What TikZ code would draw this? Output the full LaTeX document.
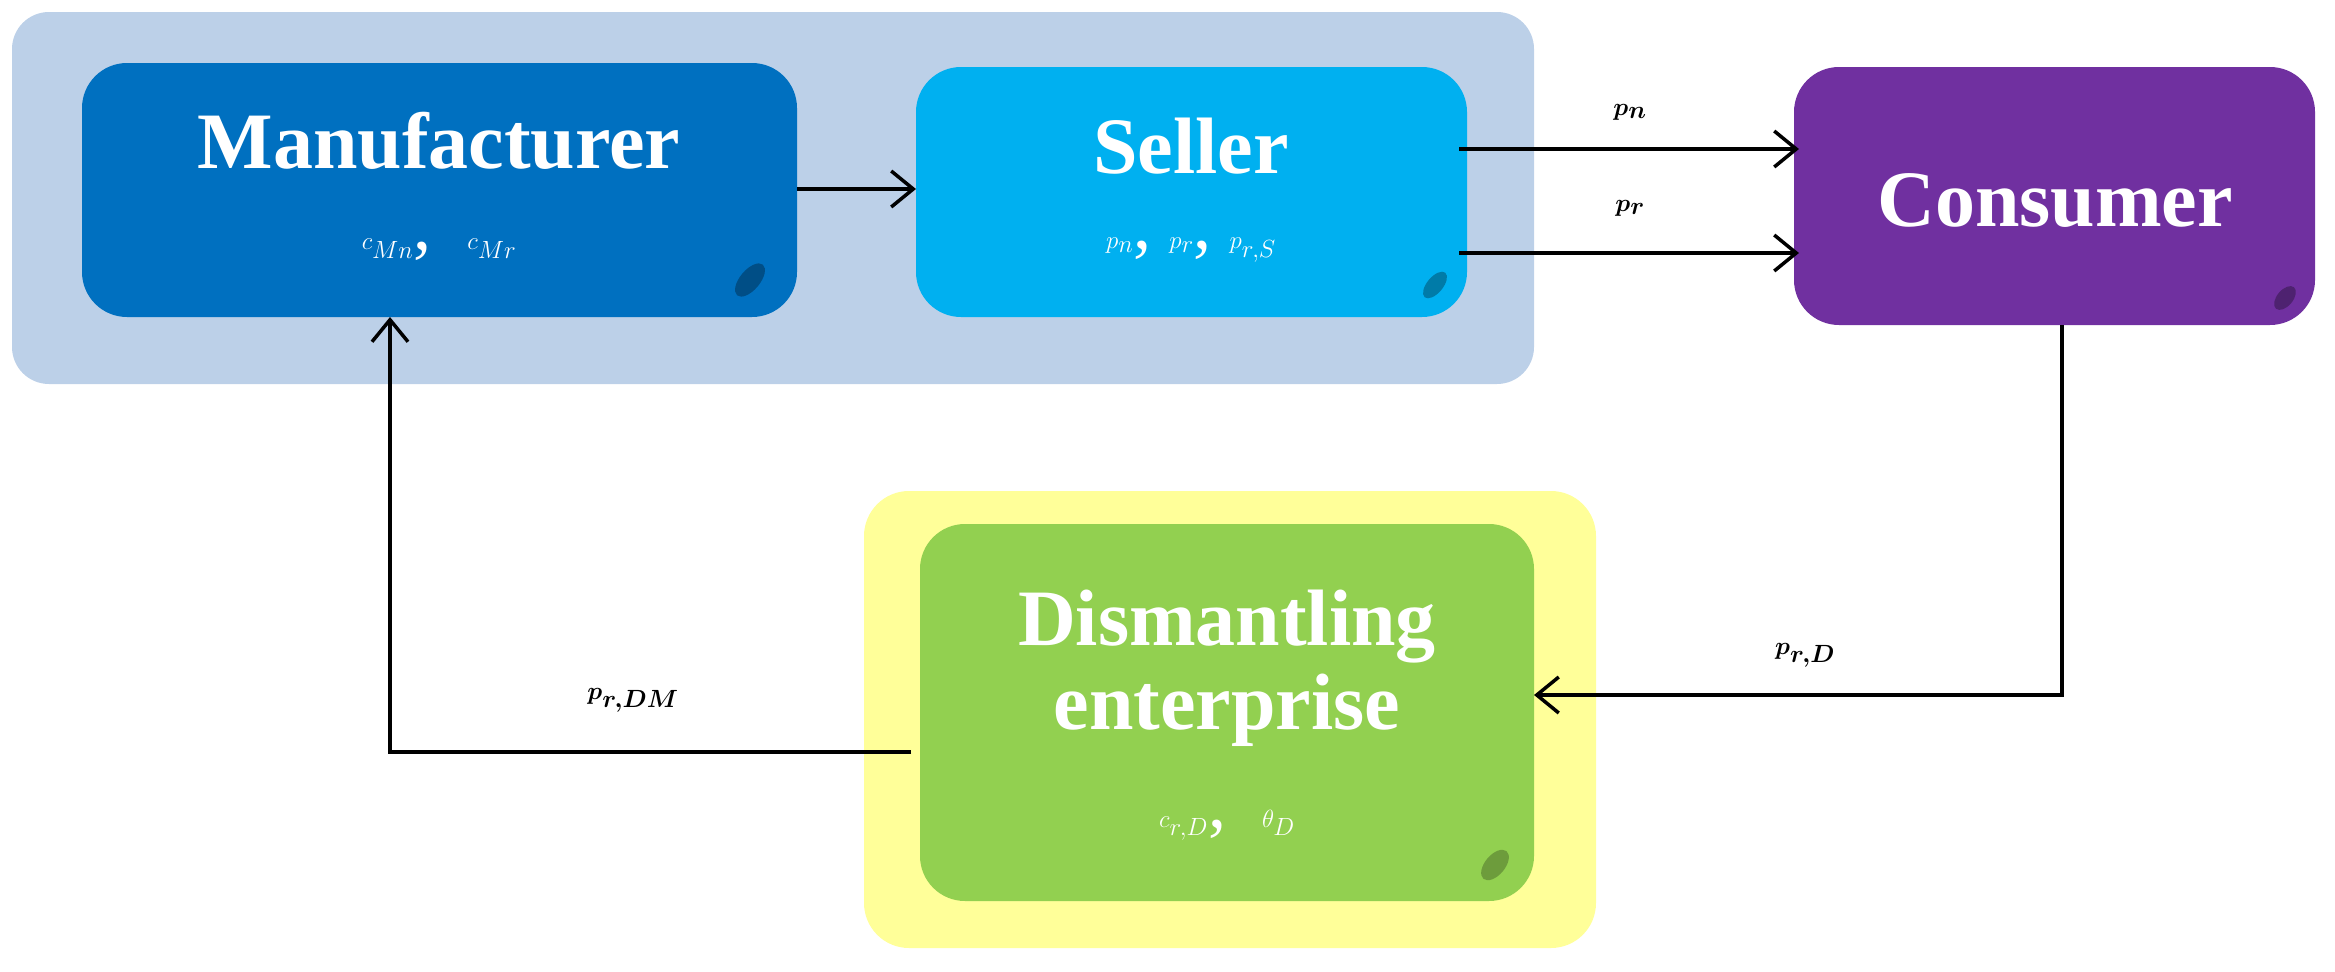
\documentclass[tikz,border=0pt]{standalone}
\usepackage{fontspec}
\setmainfont{Liberation Serif}
\usetikzlibrary{arrows.meta}
\definecolor{bgblue}{RGB}{188,208,232}
\definecolor{mblue}{RGB}{0,112,192}
\definecolor{sblue}{RGB}{0,176,240}
\definecolor{cpurp}{RGB}{112,48,160}
\definecolor{ylw}{RGB}{255,255,153}
\definecolor{dgreen}{RGB}{146,208,80}
\begin{document}
\begin{tikzpicture}[x=1pt,y=-1pt,
  box/.style={rounded corners=45pt,draw=none},
  ttl/.style={text=white,font=\fontsize{80}{92}\selectfont\bfseries,align=center},
  mth/.style={text=white,font=\fontsize{72}{80}\selectfont},
  lbl/.style={font=\fontsize{72}{80}\selectfont\boldmath},
  arr/.style={line width=3.5pt,-{Straight Barb[length=22pt,width=36pt,line width=3.5pt]}}]
\useasboundingbox (0,0) rectangle (2335,972);
\fill[bgblue,rounded corners=37pt] (12,12) rectangle (1534,384);
\fill[ylw,rounded corners=45pt] (864,491) rectangle (1596,948);
\fill[mblue,box] (82,63) rectangle (797,317);
\fill[sblue,box] (916,67) rectangle (1467,317);
\fill[cpurp,box] (1794,67) rectangle (2315,325);
\fill[dgreen,box] (920,524) rectangle (1534,901);
\fill[mblue!70!black,rotate around={-40:(750,280)}] (750,280) ellipse (10pt and 20pt);
\fill[sblue!70!black,rotate around={-40:(1435,285)}] (1435,285) ellipse (8pt and 16pt);
\fill[cpurp!70!black,rotate around={-40:(2285,298)}] (2285,298) ellipse (8pt and 14pt);
\fill[dgreen!75!black,rotate around={-40:(1495,865)}] (1495,865) ellipse (10pt and 18pt);
\node[ttl] (mt) at (439,141) {Manufacturer};
\node[mth] (mm) at (439,250) {$c_{Mn}$,\ \ $c_{Mr}$};
\node[ttl] (st) at (1191,146) {Seller};
\node[mth] (sm) at (1191,250) {$p_{n}$,\ $p_{r}$,\ $p_{r,S}$};
\node[ttl] (ct) at (2055,201) {Consumer};
\node[ttl] (dt) at (1227,668) {Dismantling\\[-8pt]enterprise};
\node[mth] (dm) at (1227,825) {$c_{r,D}$,\ \ $\theta_{D}$};
\coordinate (m1) at (797,189); \coordinate (s1) at (916,189);
\draw[arr] (m1) -- (s1);
\coordinate (s2) at (1459,149); \coordinate (c2) at (1799,149);
\coordinate (s3) at (1459,253); \coordinate (c3) at (1799,253);
\draw[arr] (s2) -- (c2);
\draw[arr] (s3) -- (c3);
\node[lbl] (ln) at (1630,112) {$p_n$};
\node[lbl] (lr) at (1630,208) {$p_r$};
\coordinate (c4) at (2062,325); \coordinate (d4) at (1534,695);
\draw[arr] (c4) |- (d4);
\node[lbl] (lrd) at (1805,655) {$p_{r,D}$};
\coordinate (d5) at (911,752); \coordinate (m5) at (390,317);
\draw[arr] (d5) -| (m5);
\node[lbl] (ldm) at (633,700) {$p_{r,DM}$};
\end{tikzpicture}
\end{document}
